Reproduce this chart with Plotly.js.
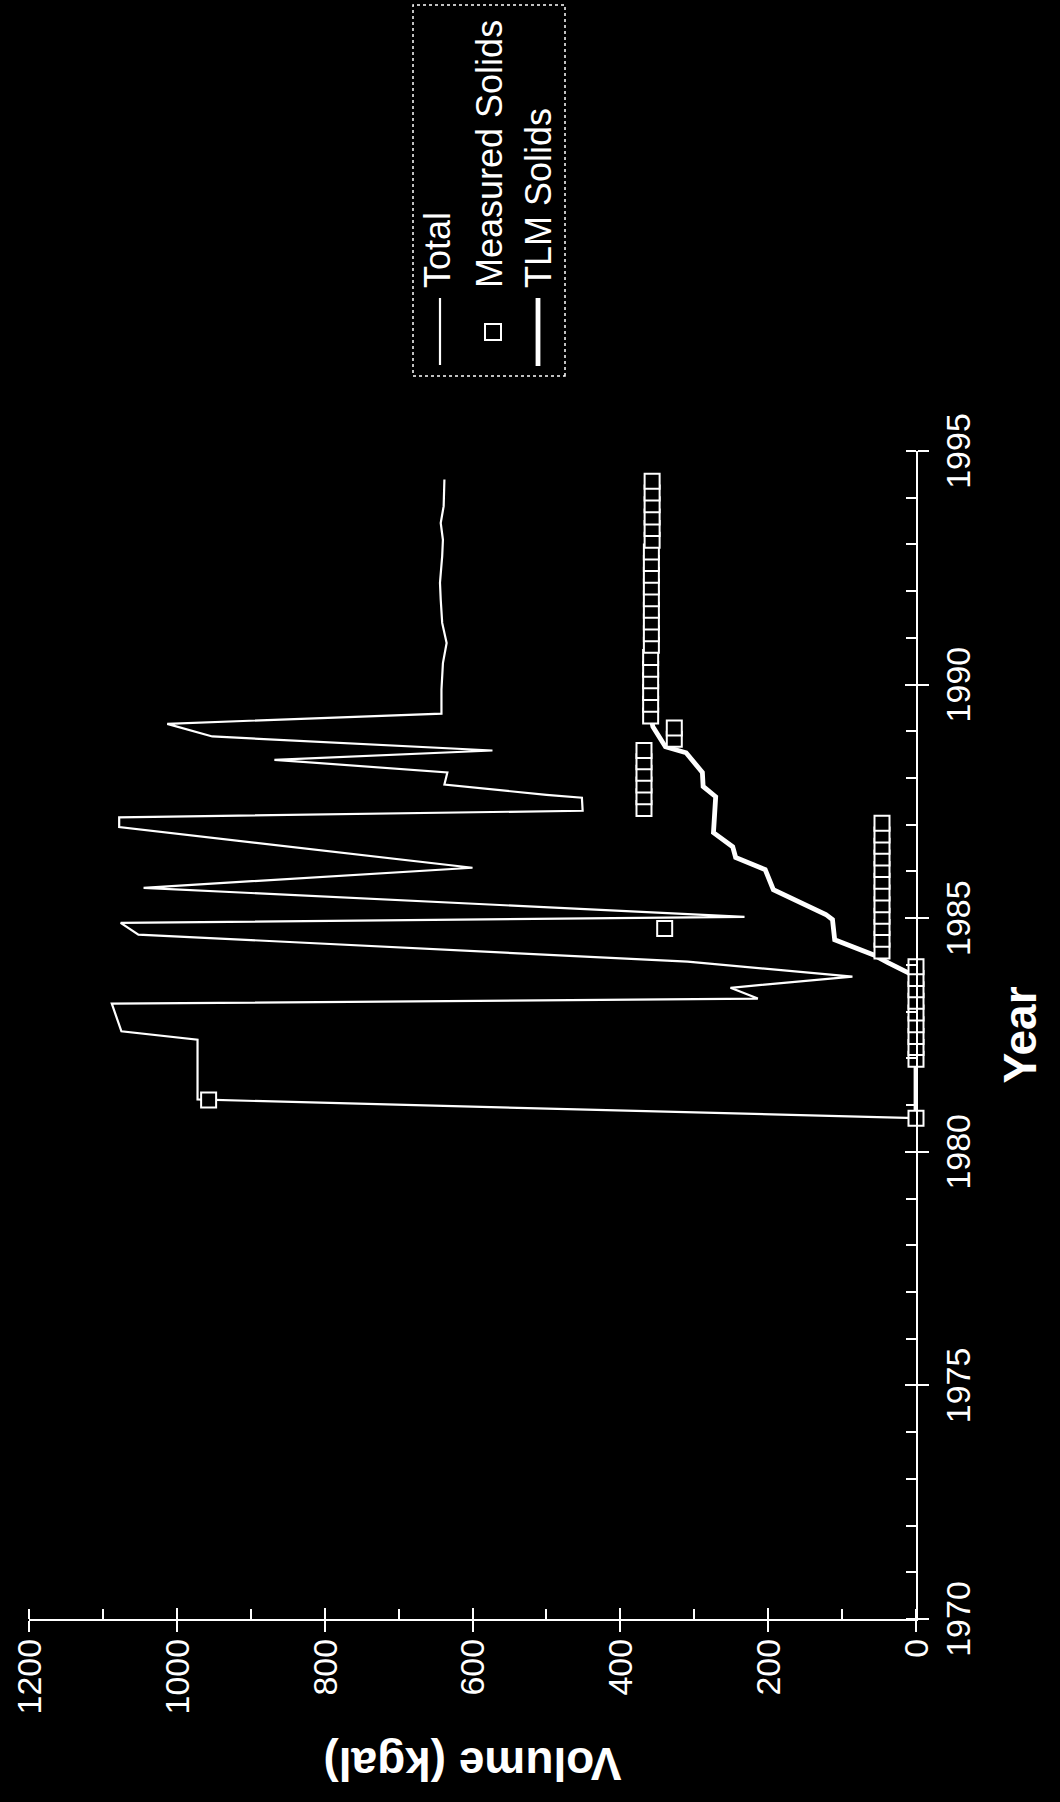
<!DOCTYPE html>
<html>
<head>
<meta charset="utf-8">
<script src="https://cdn.plot.ly/plotly-3.0.1.min.js"></script>
<style>
  html, body { margin: 0; padding: 0; background: #000; width: 1060px; height: 1802px; overflow: hidden; }
  /* the chart is laid out landscape and turned a quarter turn counter-clockwise */
  #chart { position: absolute; left: 0; top: 0; width: 1802px; height: 1060px;
           transform-origin: 0 0; transform: translate(0px, 1802px) rotate(-90deg); }
</style>
</head>
<body>
<div id="chart"></div>
<script>
// Total waste volume (kgal)
const totalYears = [1980.72, 1981.12, 1982.40, 1982.58, 1983.17, 1983.28, 1983.51, 1983.75, 1984.07, 1984.37,
                    1984.65, 1984.90, 1985.03, 1985.65, 1986.08, 1986.95, 1987.16, 1987.30, 1987.58, 1987.64,
                    1987.86, 1988.12, 1988.39, 1988.59, 1988.89, 1989.16, 1989.38, 1989.89, 1990.46, 1990.89,
                    1991.32, 1991.82, 1992.18, 1992.75, 1993.10, 1993.46, 1993.82, 1994.39];
const totalVolume = [0, 972, 972, 1075, 1088, 214, 251, 86, 309, 690,
                     1052, 1076, 232, 1045, 600, 1078, 1078, 451, 452, 500,
                     638, 634, 868, 573, 952, 1013, 642, 642, 640, 635,
                     641, 643, 644, 641, 640, 643, 639, 638];

// Measured solids (kgal)
const measuredYears = [1980.72, 1981.11,
                       1981.98, 1982.23, 1982.47, 1982.72, 1982.97, 1983.22, 1983.47, 1983.71, 1983.96,
                       1984.30, 1984.55, 1984.80, 1985.04, 1985.29, 1985.54, 1985.79, 1986.04, 1986.29, 1986.54, 1986.78, 1987.03,
                       1984.78,
                       1987.35, 1987.60, 1987.85, 1988.10, 1988.35, 1988.59,
                       1988.83, 1989.07,
                       1989.33, 1989.58, 1989.83, 1990.08, 1990.33, 1990.58, 1990.84, 1991.09, 1991.34, 1991.59, 1991.84,
                       1992.09, 1992.34, 1992.59, 1992.84, 1993.09, 1993.34, 1993.59, 1993.85, 1994.10, 1994.35];
const measuredVolume = [0, 957,
                        0, 0, 0, 0, 0, 0, 0, 0, 0,
                        46, 46, 46, 46, 46, 46, 46, 46, 46, 46, 46, 46,
                        340,
                        368, 368, 368, 368, 368, 368,
                        327, 327,
                        359, 359, 359, 359, 359, 359, 358, 358, 358, 358, 358,
                        358, 358, 358, 358, 357, 357, 357, 357, 357, 357];

// TLM solids (kgal)
const tlmYears = [1980.72, 1983.75, 1984.05, 1984.22, 1984.54, 1984.97, 1985.08, 1985.61, 1986.04, 1986.30,
                  1986.53, 1986.83, 1987.60, 1987.82, 1988.12, 1988.54, 1988.67, 1989.10, 1989.33];
const tlmVolume = [0, 0, 38, 58, 110, 113, 122, 193, 204, 244,
                   248, 274, 271, 288, 289, 311, 339, 356, 359];

const yearTicks = [1970, 1975, 1980, 1985, 1990, 1995];
const volumeTicks = [0, 200, 400, 600, 800, 1000, 1200];
const legendLabels = ['Total', 'Measured Solids', 'TLM Solids'];

const FONT = 'Liberation Sans, Arial, Helvetica, sans-serif';
const W = 1802, H = 1060;
const M = { l: 183, r: 451, t: 29, b: 144 };
const PW = W - M.l - M.r, PH = H - M.t - M.b;
// pixel position inside the figure -> paper fraction
const px = u => (u - M.l) / PW;
const py = v => 1 - (v - M.t) / PH;

const traces = [
  { x: totalYears, y: totalVolume, name: legendLabels[0], mode: 'lines',
    line: { color: '#fff', width: 2.2 }, showlegend: false },
  { x: tlmYears, y: tlmVolume, name: legendLabels[2], mode: 'lines',
    line: { color: '#fff', width: 4.8 }, showlegend: false },
  { x: measuredYears, y: measuredVolume, name: legendLabels[1], mode: 'markers', cliponaxis: false,
    marker: { symbol: 'square', size: 15, color: '#000', line: { color: '#fff', width: 2 } }, showlegend: false },
  // carries the inner half of the major ticks
  { x: [], y: [], xaxis: 'x2', yaxis: 'y2', showlegend: false, hoverinfo: 'skip' }
];

const tickFont = { family: FONT, size: 34, color: '#fff' };
const titleFont = { family: FONT, size: 46, color: '#fff', weight: 700 };

const layout = {
  width: W, height: H,
  margin: M,
  paper_bgcolor: '#000', plot_bgcolor: '#000',
  showlegend: false,
  font: { family: FONT, color: '#fff' },
  xaxis: {
    range: [1970, 1995], tickvals: yearTicks, ticktext: yearTicks.map(String),
    ticks: 'outside', ticklen: 11, tickwidth: 2, tickcolor: '#fff',
    minor: { ticks: 'inside', dtick: 1, tick0: 1970, ticklen: 10, tickwidth: 2, tickcolor: '#fff', showgrid: false },
    showline: true, linecolor: '#fff', linewidth: 2,
    showgrid: false, zeroline: false, tickfont: tickFont,
    title: { text: 'Year', font: titleFont, standoff: 28 }
  },
  yaxis: {
    range: [0, 1200], tickvals: volumeTicks, ticktext: volumeTicks.map(String),
    ticks: 'outside', ticklen: 11, tickwidth: 2, tickcolor: '#fff',
    minor: { ticks: 'inside', dtick: 100, tick0: 0, ticklen: 10, tickwidth: 2, tickcolor: '#fff', showgrid: false },
    showline: true, linecolor: '#fff', linewidth: 2,
    showgrid: false, zeroline: false, tickfont: tickFont,
    title: { text: 'Volume (kgal)', font: titleFont, standoff: 18 }
  },
  xaxis2: {
    overlaying: 'x', anchor: 'y2', side: 'bottom', range: [1970, 1995], tickvals: yearTicks,
    ticks: 'inside', ticklen: 11, tickwidth: 2, tickcolor: '#fff',
    showticklabels: false, showline: false, showgrid: false, zeroline: false
  },
  yaxis2: {
    overlaying: 'y', anchor: 'x2', side: 'left', range: [0, 1200], tickvals: volumeTicks,
    ticks: 'inside', ticklen: 11, tickwidth: 2, tickcolor: '#fff',
    showticklabels: false, showline: false, showgrid: false, zeroline: false
  },
  shapes: [
    // legend frame
    { type: 'rect', xref: 'paper', yref: 'paper', x0: px(1426), x1: px(1797), y0: py(565), y1: py(413),
      line: { color: '#fff', width: 1.5, dash: 'dot' } },
    // legend keys
    { type: 'line', xref: 'paper', yref: 'paper', x0: px(1437), x1: px(1504), y0: py(440), y1: py(440),
      line: { color: '#fff', width: 2.2 } },
    { type: 'rect', xref: 'paper', yref: 'paper', x0: px(1462), x1: px(1478), y0: py(501), y1: py(485),
      fillcolor: '#000', line: { color: '#fff', width: 2 } },
    { type: 'line', xref: 'paper', yref: 'paper', x0: px(1436), x1: px(1504), y0: py(538), y1: py(538),
      line: { color: '#fff', width: 4.8 } }
  ],
  annotations: [
    { text: legendLabels[0], xref: 'paper', yref: 'paper', x: px(1512), y: py(437), xanchor: 'left', yanchor: 'middle',
      showarrow: false, font: { family: FONT, size: 36, color: '#fff' } },
    { text: legendLabels[1], xref: 'paper', yref: 'paper', x: px(1512), y: py(489), xanchor: 'left', yanchor: 'middle',
      showarrow: false, font: { family: FONT, size: 36, color: '#fff' } },
    { text: legendLabels[2], xref: 'paper', yref: 'paper', x: px(1512), y: py(538), xanchor: 'left', yanchor: 'middle',
      showarrow: false, font: { family: FONT, size: 36, color: '#fff' } }
  ]
};

Plotly.newPlot('chart', traces, layout, { staticPlot: true, displayModeBar: false });
</script>
</body>
</html>
